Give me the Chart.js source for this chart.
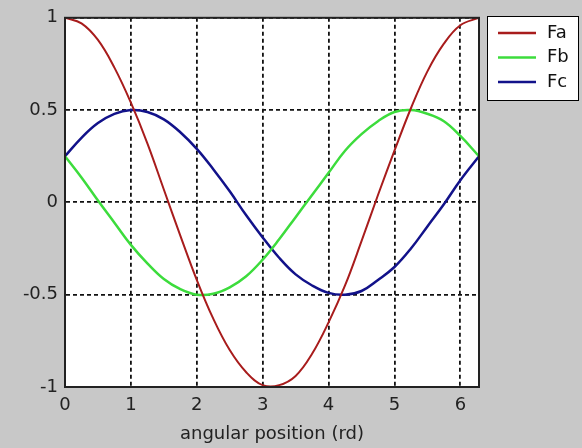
<!DOCTYPE html>
<html>
<head>
<meta charset="utf-8">
<script src="https://cdn.jsdelivr.net/npm/chart.js@4/dist/chart.umd.min.js"></script>
<style>
  html, body { margin: 0; padding: 0; background: #c8c8c8; }
  #wrap { width: 582px; height: 448px; }
</style>
</head>
<body>
<div id="wrap"><canvas id="myChart"></canvas></div>
<script>
// angular position (rd)
var angles = [0, 0.25, 0.5, 0.75, 1, 1.25, 1.5, 1.75, 2, 2.25, 2.5, 2.75, 3, 3.25, 3.5, 3.75, 4, 4.25, 4.5, 4.75, 5, 5.25, 5.5, 5.75, 6, 6.283];
var fa = [1, 0.97, 0.88, 0.73, 0.54, 0.32, 0.07, -0.18, -0.42, -0.63, -0.80, -0.92, -0.99, -0.99, -0.94, -0.82, -0.65, -0.45, -0.21, 0.04, 0.28, 0.51, 0.71, 0.86, 0.96, 1];
var fb = [0.25, 0.135, 0.01, -0.11, -0.23, -0.33, -0.415, -0.47, -0.5, -0.495, -0.46, -0.40, -0.31, -0.20, -0.08, 0.04, 0.16, 0.28, 0.37, 0.44, 0.49, 0.5, 0.48, 0.44, 0.36, 0.25];
var fc = [0.25, 0.35, 0.43, 0.48, 0.5, 0.49, 0.45, 0.38, 0.29, 0.18, 0.06, -0.07, -0.19, -0.30, -0.39, -0.45, -0.49, -0.5, -0.48, -0.42, -0.35, -0.25, -0.13, -0.01, 0.12, 0.25];
var xTicks = [0, 1, 2, 3, 4, 5, 6];
var yTicks = [-1, -0.5, 0, 0.5, 1];
var seriesNames = ['Fa', 'Fb', 'Fc'];
var seriesColors = ['#a81c1c', '#3cdc3c', '#12128a'];

var FONT = '"DejaVu Sans", Arial, sans-serif';

function pts(ys) {
  return angles.map(function(x, i) { return {x: x, y: ys[i]}; });
}

var plotBg = {
  id: 'plotBg',
  beforeDraw: function(chart) {
    var c = chart.ctx, a = chart.chartArea;
    c.save();
    c.fillStyle = '#ffffff';
    c.fillRect(a.left, a.top, a.right - a.left, a.bottom - a.top);
    c.restore();
  },
  afterDatasetsDraw: function(chart) {
    var c = chart.ctx, a = chart.chartArea;
    c.save();
    c.strokeStyle = '#222';
    c.lineWidth = 2;
    c.strokeRect(a.left, a.top, a.right - a.left, a.bottom - a.top);
    c.restore();
  }
};

var boxLegend = {
  id: 'boxLegend',
  afterDraw: function(chart) {
    var c = chart.ctx;
    c.save();
    c.fillStyle = '#ffffff';
    c.fillRect(487, 16, 91, 84);
    c.strokeStyle = '#000';
    c.lineWidth = 1;
    c.strokeRect(487.5, 16.5, 91, 84);
    c.font = '18px ' + FONT;
    c.textBaseline = 'middle';
    chart.data.datasets.forEach(function(ds, i) {
      var y = 33 + i * 24.5;
      c.strokeStyle = ds.borderColor;
      c.lineWidth = 2.5;
      c.beginPath();
      c.moveTo(498, y);
      c.lineTo(536, y);
      c.stroke();
      c.fillStyle = '#111';
      c.fillText(ds.label, 547, y);
    });
    c.restore();
  }
};

var ctx = document.getElementById('myChart').getContext('2d');
var data = [fa, fb, fc];

var myChart = new Chart(ctx, {
  type: 'line',
  data: {
    datasets: data.map(function(ys, i) {
      return {
        label: seriesNames[i],
        data: pts(ys),
        borderColor: seriesColors[i],
        borderWidth: i === 0 ? 2 : 2.5,
        pointRadius: 0,
        tension: 0.4,
        fill: false
      };
    })
  },
  options: {
    responsive: true,
    maintainAspectRatio: false,
    animation: false,
    layout: { padding: { top: 16, right: 103, left: 0, bottom: 0 } },
    plugins: { legend: { display: false }, tooltip: { enabled: false } },
    scales: {
      x: {
        type: 'linear',
        min: 0,
        max: 6.283,
        afterBuildTicks: function(s) { s.ticks = xTicks.map(function(v) { return {value: v}; }); },
        afterFit: function(s) { s.height = 61; },
        grid: { color: '#111', lineWidth: 1.8, drawTicks: false },
        border: { color: '#000', width: 2, dash: [4, 3] },
        ticks: { color: '#222', padding: 8, font: { size: 18, family: FONT }, callback: function(v) { return String(v); } },
        title: { display: true, text: 'angular position (rd)', color: '#222', padding: { top: 0, bottom: 3 }, font: { size: 18, family: FONT } }
      },
      y: {
        min: -1,
        max: 1,
        afterBuildTicks: function(s) { s.ticks = yTicks.map(function(v) { return {value: v}; }); },
        afterFit: function(s) { s.width = 65; },
        grid: { color: '#111', lineWidth: 1.8, drawTicks: false },
        border: { color: '#000', width: 2, dash: [4, 3] },
        ticks: { color: '#222', padding: 7, font: { size: 18, family: FONT }, callback: function(v) { return String(v); } }
      }
    }
  },
  plugins: [plotBg, boxLegend]
});
</script>
</body>
</html>
